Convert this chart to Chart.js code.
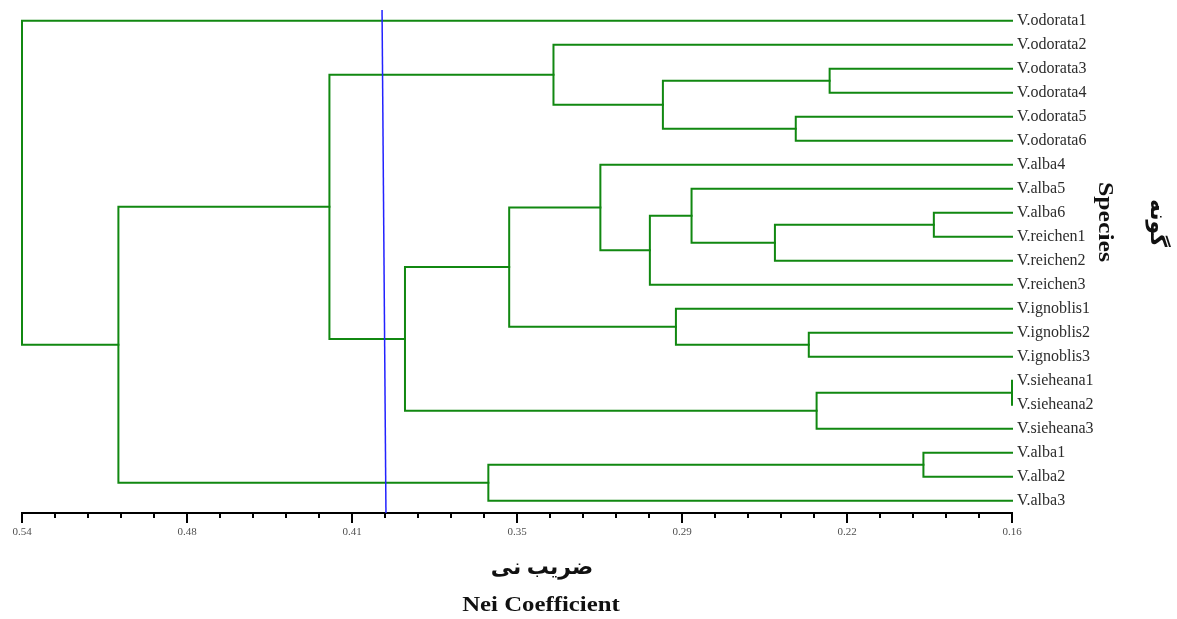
<!DOCTYPE html>
<html><head><meta charset="utf-8">
<script src="https://cdn.jsdelivr.net/npm/chart.js@4.4.1/dist/chart.umd.min.js"></script>
<style>html,body{margin:0;padding:0;background:#fff;}#wrap{width:1177px;height:619px;}</style>
</head><body><div id="wrap"><canvas id="c" width="1177" height="619"></canvas></div>
<script>
// ---- data ----
const leaves = ['V.odorata1','V.odorata2','V.odorata3','V.odorata4','V.odorata5','V.odorata6',
  'V.alba4','V.alba5','V.alba6','V.reichen1','V.reichen2','V.reichen3',
  'V.ignoblis1','V.ignoblis2','V.ignoblis3','V.sieheana1','V.sieheana2','V.sieheana3',
  'V.alba1','V.alba2','V.alba3'];
// merge k creates node id (leaves.length + k)
const mergeLeft   = [15, 8, 18, 2, 21, 13, 4, 22, 7, 12, 24, 29, 6, 1, 33, 23, 35, 34, 38, 0];
const mergeRight  = [16, 9, 19, 3, 17, 14, 5, 10, 28, 26, 27, 11, 32, 31, 30, 20, 25, 37, 36, 39];
const mergeHeight = [0.160, 0.190, 0.194, 0.230, 0.235, 0.238, 0.243, 0.251, 0.283, 0.289,
                     0.294, 0.299, 0.318, 0.336, 0.353, 0.361, 0.393, 0.422, 0.503, 0.540];
const tickLabels = ['0.54','0.48','0.41','0.35','0.29','0.22','0.16'];
const axisMin = 0.16, axisMax = 0.54, minorSteps = 30, majorEvery = 5;
const cutLine = [0.4018, 0.4003];   // Nei coefficient at top / bottom of the blue cut line
const xTitleFa = 'ضریب نی', xTitleEn = 'Nei Coefficient';
const yTitleEn = 'Species', yTitleFa = 'گونه';

// ---- build dendrogram segments ----
const nLeaf = leaves.length;
const nodeY = [], nodeH = [];
for (let i = 0; i < nLeaf; i++) { nodeY[i] = i; nodeH[i] = axisMin; }
const green = '#118811';
const datasets = [];
mergeLeft.forEach((l, k) => {
  const r = mergeRight[k], h = mergeHeight[k], id = nLeaf + k;
  nodeY[id] = (nodeY[l] + nodeY[r]) / 2; nodeH[id] = h;
  datasets.push({
    data: [{x: nodeH[l], y: nodeY[l]}, {x: h, y: nodeY[l]}, {x: h, y: nodeY[r]}, {x: nodeH[r], y: nodeY[r]}],
    borderColor: green, borderWidth: 2, pointRadius: 0, showLine: true, tension: 0,
    borderCapStyle: 'square', borderJoinStyle: 'miter', clip: false, order: 1
  });
});
const yTop = -0.8625, yBottom = 20.51;
datasets.unshift({
  data: [{x: cutLine[0], y: -0.45}, {x: cutLine[1], y: yBottom}],
  borderColor: '#2222ff', borderWidth: 1.5, pointRadius: 0, showLine: true, clip: false, order: 0
});

const step = (axisMax - axisMin) / minorSteps;
const titlePlugin = {
  id: 'titles',
  afterDraw(chart) {
    const ctx = chart.ctx, xs = chart.scales.x;
    ctx.save();
    // major ticks (longer)
    ctx.strokeStyle = '#000'; ctx.lineWidth = 2;
    for (let k = 0; k <= minorSteps; k += majorEvery) {
      const px = Math.round(xs.getPixelForValue(axisMax - k * step));
      ctx.beginPath(); ctx.moveTo(px, xs.top); ctx.lineTo(px, xs.top + 10); ctx.stroke();
    }
    ctx.fillStyle = '#111';
    ctx.textAlign = 'center'; ctx.textBaseline = 'middle';
    ctx.font = 'bold 22px "Liberation Serif", "DejaVu Sans", serif';
    ctx.fillText(xTitleFa, 542, 568);
    ctx.save(); ctx.translate(541, 606); ctx.scale(1.18, 1);
    ctx.font = 'bold 21px "Liberation Serif", serif';
    ctx.fillText(xTitleEn, 0, 0); ctx.restore();
    ctx.save(); ctx.translate(1105, 222); ctx.rotate(Math.PI / 2); ctx.scale(1.17, 1);
    ctx.font = 'bold 22px "Liberation Serif", serif';
    ctx.fillText(yTitleEn, 0, 0); ctx.restore();
    ctx.save(); ctx.translate(1157, 223); ctx.rotate(Math.PI / 2);
    ctx.font = 'bold 22px "Liberation Serif", "DejaVu Sans", serif';
    ctx.fillText(yTitleFa, 0, 0); ctx.restore();
    ctx.restore();
  }
};

new Chart(document.getElementById('c'), {
  type: 'scatter',
  data: { datasets },
  options: {
    responsive: false, animation: false, devicePixelRatio: 1,
    layout: { padding: { left: 22, right: 0, top: 0, bottom: 0 } },
    plugins: { legend: { display: false }, tooltip: { enabled: false } },
    scales: {
      x: {
        type: 'linear', position: 'bottom', reverse: true, min: axisMin, max: axisMax,
        afterBuildTicks(scale) {
          const t = [];
          for (let k = minorSteps; k >= 0; k--) t.push({ value: axisMax - k * step });
          scale.ticks = t;
        },
        afterFit(scale) { scale.height = 106; scale.paddingLeft = 0; scale.paddingRight = 0; },
        grid: { drawOnChartArea: false, drawTicks: true, tickLength: 5, tickColor: '#000', tickWidth: 2, lineWidth: 2, color: '#000' },
        border: { display: true, color: '#000', width: 2 },
        ticks: {
          autoSkip: false, maxRotation: 0, minRotation: 0, padding: 8, color: '#505050',
          font: { family: '"Liberation Serif", serif', size: 11 },
          callback(value) {
            const k = Math.round((axisMax - value) / step);
            return k % majorEvery === 0 ? tickLabels[k / majorEvery] : '';
          }
        }
      },
      y: {
        type: 'linear', position: 'right', reverse: true, min: yTop, max: yBottom,
        afterBuildTicks(scale) { scale.ticks = leaves.map((_, i) => ({ value: i })); },
        afterFit(scale) { scale.width = 165; scale.paddingTop = 0; scale.paddingBottom = 0; },
        grid: { display: false, drawTicks: false },
        border: { display: false },
        ticks: {
          autoSkip: false, padding: 5, color: '#2c2c2c',
          font: { family: '"Liberation Serif", serif', size: 16 },
          callback(value) { return leaves[value] !== undefined ? leaves[value] : ''; }
        }
      }
    }
  },
  plugins: [titlePlugin]
});
</script></body></html>
